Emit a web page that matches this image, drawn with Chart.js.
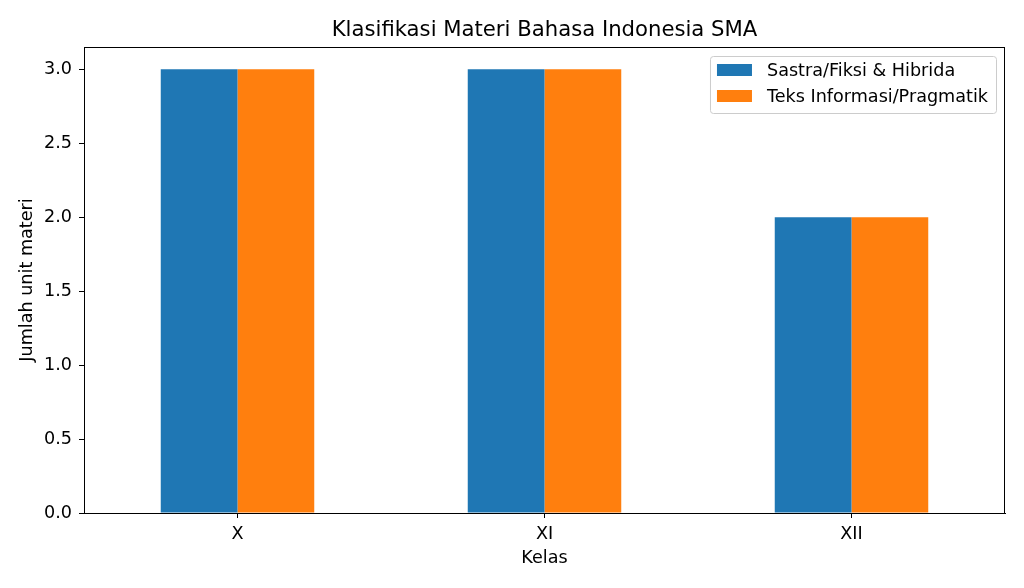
<!DOCTYPE html>
<html>
<head>
<meta charset="utf-8">
<script src="https://cdn.jsdelivr.net/npm/chart.js@4/dist/chart.umd.min.js"></script>
<style>
  html, body { margin: 0; padding: 0; background: #fff; }
  canvas { display: block; }
</style>
</head>
<body>
<canvas id="chart" width="1024" height="588"></canvas>
<script>
// data
const kelas = ["X", "XI", "XII"];
const sastraFiksi = [3, 3, 2];
const teksInformasi = [3, 3, 2];
const seriesNames = ["Sastra/Fiksi & Hibrida", "Teks Informasi/Pragmatik"];
const yTicks = [0, 0.5, 1.0, 1.5, 2.0, 2.5, 3.0];

const FONT = "'DejaVu Sans', sans-serif";
const fontPx = 17.6;

// frame on all four sides + title
const framePlugin = {
  id: "frame",
  afterDatasetsDraw(chart) {
    const { ctx, chartArea: a } = chart;
    ctx.save();
    ctx.strokeStyle = "#000";
    ctx.lineWidth = 1;
    ctx.strokeRect(a.left + 0.5, a.top + 0.5, a.right - a.left - 1, a.bottom - a.top);
    ctx.fillStyle = "#000";
    ctx.font = "21.2px " + FONT;
    ctx.textAlign = "center";
    ctx.textBaseline = "middle";
    ctx.fillText("Klasifikasi Materi Bahasa Indonesia SMA", (a.left + a.right) / 2, 30);
    ctx.restore();
  }
};

// matplotlib style legend, upper right inside the axes
const legendPlugin = {
  id: "mplLegend",
  afterDraw(chart) {
    const { ctx, chartArea: a } = chart;
    const sets = chart.data.datasets;
    ctx.save();
    ctx.font = fontPx + "px " + FONT;
    let textW = 0;
    sets.forEach(ds => { textW = Math.max(textW, ctx.measureText(ds.label).width); });
    const boxW = 7 + 35 + 15 + textW + 8;
    const boxH = 57;
    const x = a.right - 9 - boxW;
    const y = a.top + 9;
    ctx.beginPath();
    ctx.roundRect(x + 0.5, y + 0.5, boxW, boxH, 3);
    ctx.fillStyle = "rgba(255,255,255,0.8)";
    ctx.fill();
    ctx.strokeStyle = "#cccccc";
    ctx.lineWidth = 1;
    ctx.stroke();
    sets.forEach((ds, i) => {
      const cy = y + 14 + i * 26;
      ctx.fillStyle = ds.backgroundColor;
      ctx.fillRect(x + 7, cy - 6, 35, 12);
      ctx.fillStyle = "#000";
      ctx.textAlign = "left";
      ctx.textBaseline = "middle";
      ctx.fillText(ds.label, x + 7 + 35 + 15, cy + 1);
    });
    ctx.restore();
  }
};

new Chart(document.getElementById("chart"), {
  type: "bar",
  data: {
    labels: kelas,
    datasets: [
      { label: seriesNames[0], data: sastraFiksi, backgroundColor: "#1f77b4" },
      { label: seriesNames[1], data: teksInformasi, backgroundColor: "#ff7f0e" }
    ]
  },
  options: {
    responsive: false,
    animation: false,
    devicePixelRatio: 1,
    categoryPercentage: 0.5,
    barPercentage: 1.0,
    layout: { padding: { top: 47, right: 19, left: 0, bottom: 0 } },
    plugins: {
      legend: { display: false },
      title: { display: false },
      tooltip: { enabled: false }
    },
    scales: {
      x: {
        offset: true,
        grid: { display: true, drawOnChartArea: false, drawTicks: true, tickLength: 5, color: "#000", offset: false },
        border: { display: true, color: "#000", width: 1 },
        ticks: { color: "#000", font: { family: FONT, size: fontPx }, padding: 6, maxRotation: 0 },
        title: { display: true, text: "Kelas", color: "#000", font: { family: FONT, size: fontPx }, padding: { top: 0, bottom: 19 } },
        afterFit(scale) { scale.height = 75; }
      },
      y: {
        min: 0,
        max: 3.15,
        afterBuildTicks(scale) { scale.ticks = yTicks.map(v => ({ value: v })); },
        grid: { display: true, drawOnChartArea: false, drawTicks: true, tickLength: 5, color: "#000" },
        border: { display: true, color: "#000", width: 1 },
        ticks: {
          color: "#000",
          font: { family: FONT, size: fontPx },
          padding: 7,
          callback: v => Number(v).toFixed(1)
        },
        title: { display: true, text: "Jumlah unit materi", color: "#000", font: { family: FONT, size: fontPx }, padding: { top: 17, bottom: 0 } },
        afterFit(scale) { scale.width = 84; }
      }
    }
  },
  plugins: [framePlugin, legendPlugin]
});
</script>
</body>
</html>
